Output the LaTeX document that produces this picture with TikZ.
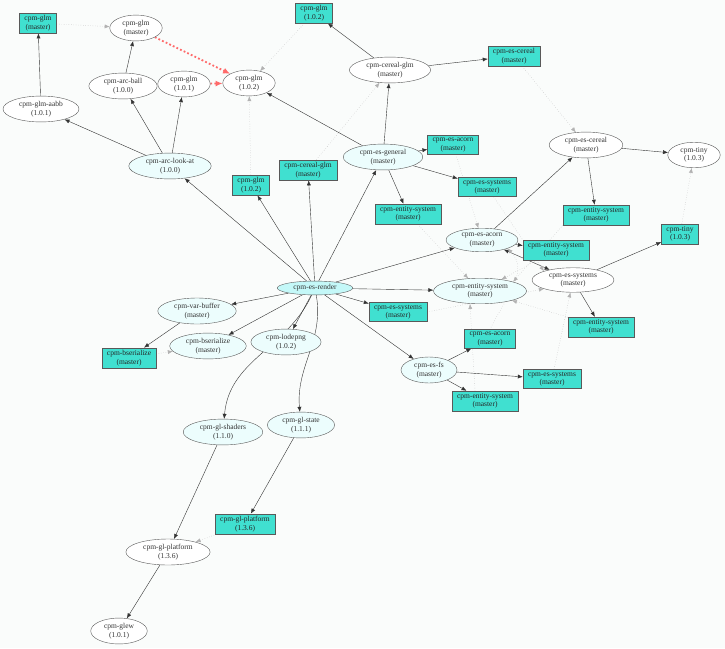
\documentclass[tikz,border=0pt]{standalone}
\usepackage{fontspec}
\setmainfont{Liberation Serif}
\usetikzlibrary{shapes.geometric,arrows.meta}

\definecolor{paper}{HTML}{FAFCFB}
\definecolor{builtcyan}{HTML}{ECFDFD}
\definecolor{rootcyan}{HTML}{C4F8F8}
\definecolor{refturq}{HTML}{40E0D0}
\definecolor{clashred}{HTML}{FF6A6A}

\pgfdeclarelayer{bg}
\pgfsetlayers{bg,main}

\begin{document}
\begin{tikzpicture}[
  x=1pt, y=1pt,
  font=\fontsize{7.5}{8.5}\selectfont,
  pkgnode/.style={ellipse, draw=black!65, fill=white, align=center,
    inner xsep=5pt, inner ysep=1.5pt, text=black!80},
  builtnode/.style={pkgnode, fill=builtcyan},
  rootnode/.style={pkgnode, fill=rootcyan},
  refbox/.style={rectangle, draw=black!65, fill=refturq, align=center,
    inner xsep=5pt, inner ysep=2.5pt, text=black!85},
  depedge/.style={draw=black!80, -{Latex[length=5pt,width=4pt]}},
  refedge/.style={draw=black!30, dotted, -{Latex[length=5pt,width=4pt]}},
  clashedge/.style={draw=clashred, line width=1.8pt,
    dash pattern=on 1.8pt off 2.2pt, -{Latex[length=7pt,width=6pt]}},
]

% page
\begin{pgfonlayer}{bg}
  \fill[paper] (0,0) rectangle (725,-648);
\end{pgfonlayer}

% packages
\node[pkgnode] (glmm) at (136,-28) {cpm-glm\\(master)};
\node[pkgnode] (glm102) at (249,-83) {cpm-glm\\(1.0.2)};
\node[pkgnode] (glm101) at (184,-84) {cpm-glm\\(1.0.1)};
\node[pkgnode] (arcball) at (123,-86) {cpm-arc-ball\\(1.0.0)};
\node[pkgnode] (glmaabb) at (41,-109) {cpm-glm-aabb\\(1.0.1)};
\node[builtnode] (arclook) at (170,-166) {cpm-arc-look-at\\(1.0.0)};
\node[pkgnode] (cerealglm) at (390,-70) {cpm-cereal-glm\\(master)};
\node[builtnode] (esgeneral) at (383,-157) {cpm-es-general\\(master)};
\node[pkgnode] (escereal) at (586,-145) {cpm-es-cereal\\(master)};
\node[pkgnode] (tiny) at (694,-155) {cpm-tiny\\(1.0.3)};
\node[builtnode] (esacorn) at (482,-240) {cpm-es-acorn\\(master)};
\node[builtnode] (entsys) at (480,-291) {cpm-entity-system\\(master)};
\node[pkgnode] (essystems) at (573,-280) {cpm-es-systems\\(master)};
\node[rootnode] (esrender) at (315,-288) {cpm-es-render};
\node[builtnode] (varbuffer) at (197,-311) {cpm-var-buffer\\(master)};
\node[builtnode] (bserial) at (208,-346) {cpm-bserialize\\(master)};
\node[builtnode] (lodepng) at (286,-342) {cpm-lodepng\\(1.0.2)};
\node[builtnode] (esfs) at (429,-370) {cpm-es-fs\\(master)};
\node[builtnode] (glshaders) at (223,-432) {cpm-gl-shaders\\(1.1.0)};
\node[builtnode] (glstate) at (301,-425) {cpm-gl-state\\(1.1.1)};
\node[pkgnode] (glplat) at (168,-552) {cpm-gl-platform\\(1.3.6)};
\node[pkgnode] (glew) at (119,-631) {cpm-glew\\(1.0.1)};

% references
\node[refbox] (rglmm) at (38,-23) {cpm-glm\\(master)};
\node[refbox] (rglmtop) at (314,-13) {cpm-glm\\(1.0.2)};
\node[refbox] (rglm) at (251,-185) {cpm-glm\\(1.0.2)};
\node[refbox] (rcerealglm) at (308,-170) {cpm-cereal-glm\\(master)};
\node[refbox] (rescereal) at (514,-56) {cpm-es-cereal\\(master)};
\node[refbox] (resacornA) at (453,-145) {cpm-es-acorn\\(master)};
\node[refbox] (ressysA) at (487,-187) {cpm-es-systems\\(master)};
\node[refbox] (rentA) at (408,-214) {cpm-entity-system\\(master)};
\node[refbox] (rentB) at (596,-215) {cpm-entity-system\\(master)};
\node[refbox] (rtiny) at (680,-234) {cpm-tiny\\(1.0.3)};
\node[refbox] (rentC) at (556,-250) {cpm-entity-system\\(master)};
\node[refbox] (ressysB) at (398,-312) {cpm-es-systems\\(master)};
\node[refbox] (rentD) at (601,-327) {cpm-entity-system\\(master)};
\node[refbox] (resacornB) at (490,-339) {cpm-es-acorn\\(master)};
\node[refbox] (ressysC) at (552,-379) {cpm-es-systems\\(master)};
\node[refbox] (rentE) at (485,-401) {cpm-entity-system\\(master)};
\node[refbox] (rbserial) at (129,-358) {cpm-bserialize\\(master)};
\node[refbox] (rglplat) at (245,-524) {cpm-gl-platform\\(1.3.6)};

\begin{pgfonlayer}{bg}
% dependencies
\foreach \a/\b in {glmaabb/rglmm, arcball/glmm, arclook/glmaabb,
    arclook/arcball, arclook/glm101, esgeneral/glm102, esgeneral/cerealglm,
    esgeneral/resacornA, esgeneral/ressysA, esgeneral/rentA,
    cerealglm/rglmtop, cerealglm/rescereal, escereal/tiny, escereal/rentB,
    esacorn/escereal, esacorn/rentC, essystems/rtiny, essystems/rentD,
    esrender/arclook, esrender/rglm, esrender/rcerealglm, esrender/esgeneral,
    esrender/esacorn, esrender/entsys, esrender/ressysB, esrender/esfs,
    esrender/varbuffer, esrender/bserial, esrender/lodepng,
    esfs/resacornB, esfs/ressysC, esfs/rentE, varbuffer/rbserial,
    glshaders/glplat, glstate/rglplat, glplat/glew}
  \draw[depedge] (\a) -- (\b);
\draw[depedge, {Latex[length=5pt,width=4pt]}-{Latex[length=5pt,width=4pt]}]
  (esacorn) -- (essystems);
\draw[depedge] (esrender) to[out=-115, in=85] (glshaders);
\draw[depedge] (esrender) to[out=-80, in=95] (glstate);

% references resolved
\foreach \a/\b in {rglmm/glmm, rglmtop/glm102, rglm/glm102,
    rcerealglm/cerealglm, rescereal/escereal, rtiny/tiny, rbserial/bserial,
    rglplat/glplat, resacornA/esacorn, rentA/entsys, rentC/entsys,
    rentD/entsys, ressysC/essystems}
  \draw[refedge] (\a) -- (\b);
\draw[refedge] (rentB.south west) -- (entsys.north east);
\draw[refedge] (ressysA) -- (essystems.north west);
\draw[refedge] (ressysB.east) -- (essystems.south west);
\draw[refedge] ([xshift=-10pt]rentE.north) -- ([xshift=-10pt]entsys.south);
\draw[refedge] (resacornB.north) to[out=65, in=-45] (esacorn.south east);

% version clashes
\draw[clashedge] (glmm) -- (glm102);
\draw[clashedge] (glm101) -- (glm102);
\end{pgfonlayer}
\end{tikzpicture}
\end{document}
